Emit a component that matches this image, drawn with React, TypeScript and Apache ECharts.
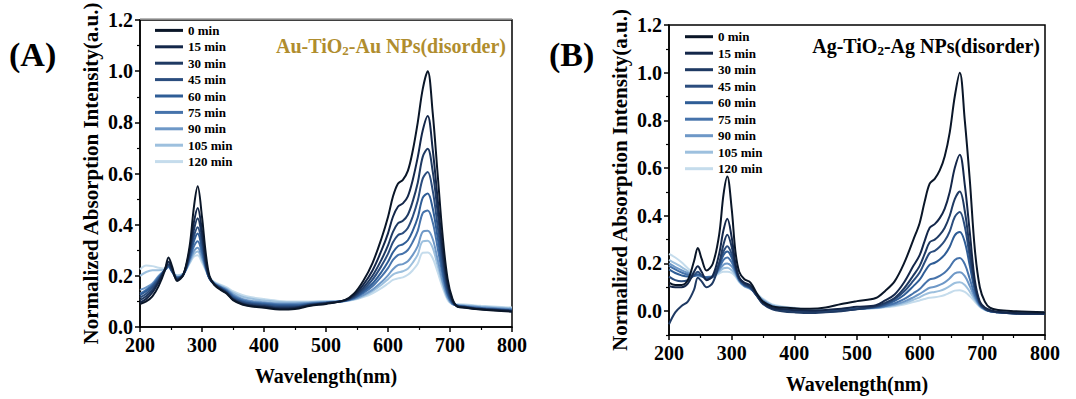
import React, { useEffect, useRef } from "react";
import * as echarts from "echarts";

const WAVELENGTHS = [200,210,220,230,240,246,252,260,270,280,287,293,300,306,312,320,330,340,350,365,380,400,425,450,475,500,530,545,560,575,590,600,608,616,624,632,640,648,656,664,672,680,688,696,704,712,725,750,800];
const TIMES = ["0 min","15 min","30 min","45 min","60 min","75 min","90 min","105 min","120 min"];
const COLORS = ["#0a1628","#14274a","#1f3a63","#2b4d7e","#2f5d96","#4673ab","#6e98c7","#9dc0de","#c5dcec"];
const Y_TICKS = [0,0.2,0.4,0.6,0.8,1.0,1.2];
const Y_MINOR_B = [-0.1,0.1,0.3,0.5,0.7,0.9,1.1];

// Panel A: Au-TiO2-Au NPs(disorder)
const A_0 = [.09,.1,.12,.16,.22,.272,.235,.18,.205,.315,.47,.55,.43,.29,.2,.165,.145,.13,.105,.088,.08,.075,.068,.07,.083,.09,.105,.13,.18,.25,.35,.43,.51,.56,.575,.61,.69,.8,.93,1.0,.84,.6,.36,.19,.11,.08,.075,.068,.06];
const A_15 = [.095,.11,.135,.175,.225,.255,.225,.185,.205,.3,.41,.465,.375,.26,.195,.165,.148,.132,.108,.09,.083,.079,.072,.074,.085,.092,.104,.124,.165,.221,.302,.366,.431,.47,.483,.511,.576,.664,.768,.825,.696,.502,.308,.17,.104,.08,.076,.069,.062];
const A_30 = [.105,.12,.145,.18,.225,.245,.22,.188,.205,.29,.38,.425,.35,.25,.192,.166,.15,.134,.11,.093,.086,.082,.076,.077,.087,.093,.104,.12,.153,.2,.266,.319,.372,.405,.415,.439,.492,.564,.665,.697,.61,.45,.28,.155,.1,.081,.077,.07,.063];
const A_45 = [.115,.13,.155,.185,.222,.24,.218,.19,.205,.28,.355,.39,.325,.243,.19,.167,.152,.136,.113,.097,.09,.086,.08,.08,.088,.094,.103,.117,.145,.185,.241,.286,.331,.359,.367,.387,.432,.494,.58,.606,.535,.395,.25,.144,.097,.082,.078,.071,.064];
const A_60 = [.125,.14,.16,.19,.222,.238,.217,.192,.205,.272,.335,.365,.305,.237,.19,.168,.154,.139,.117,.1,.093,.089,.084,.084,.09,.095,.103,.114,.138,.17,.217,.255,.292,.316,.323,.339,.377,.428,.505,.522,.465,.35,.225,.134,.094,.083,.079,.072,.065];
const A_75 = [.13,.145,.165,.195,.222,.236,.216,.194,.206,.265,.315,.335,.288,.232,.19,.17,.156,.142,.122,.105,.097,.093,.088,.088,.092,.096,.102,.112,.132,.159,.199,.23,.262,.281,.287,.301,.333,.376,.445,.455,.41,.31,.205,.127,.092,.084,.08,.074,.067];
const A_90 = [.145,.155,.17,.2,.222,.235,.215,.195,.207,.258,.297,.31,.272,.228,.19,.171,.158,.146,.128,.11,.102,.097,.092,.092,.095,.098,.102,.109,.125,.146,.177,.202,.226,.242,.246,.257,.282,.316,.372,.376,.345,.265,.18,.117,.089,.085,.082,.077,.07];
const A_105 = [.2,.215,.222,.222,.225,.238,.218,.2,.208,.252,.285,.295,.262,.225,.192,.174,.162,.15,.134,.118,.11,.104,.098,.097,.098,.1,.101,.108,.121,.14,.166,.187,.205,.213,.218,.228,.252,.283,.335,.337,.31,.24,.17,.113,.09,.087,.085,.08,.073];
const A_120 = [.225,.24,.238,.232,.228,.24,.22,.202,.21,.248,.275,.28,.252,.222,.192,.176,.165,.155,.14,.125,.116,.109,.102,.1,.1,.101,.101,.106,.117,.132,.153,.17,.184,.19,.194,.204,.222,.247,.29,.291,.27,.215,.155,.107,.09,.089,.088,.083,.076];

// Panel B: Ag-TiO2-Ag NPs(disorder)
const B_0 = [.12,.11,.11,.13,.21,.265,.22,.17,.2,.32,.49,.565,.43,.25,.165,.135,.12,.075,.04,.02,.015,.012,.01,.015,.03,.042,.055,.085,.125,.2,.3,.37,.46,.535,.555,.59,.65,.75,.9,1.0,.8,.55,.26,.1,.04,.015,.005,0,-.005];
const B_15 = [.105,.1,.1,.115,.165,.188,.165,.13,.15,.24,.34,.387,.31,.2,.14,.12,.108,.07,.035,.012,.008,.004,.002,.005,.01,.018,.025,.045,.07,.12,.19,.235,.295,.35,.365,.39,.43,.5,.6,.656,.53,.33,.13,.04,.015,.005,-.003,-.008,-.01];
const B_30 = [-.055,-.005,.022,.04,.09,.14,.125,.1,.12,.2,.28,.32,.27,.19,.14,.115,.1,.065,.03,.008,0,-.005,-.008,-.005,0,.008,.02,.035,.055,.095,.15,.19,.24,.289,.3,.32,.35,.4,.47,.502,.42,.26,.11,.035,.01,0,-.005,-.01,-.012];
const B_45 = [.145,.13,.125,.13,.15,.165,.15,.135,.145,.2,.25,.272,.24,.18,.135,.112,.098,.065,.032,.01,.003,-.003,-.005,-.003,.002,.009,.018,.03,.05,.082,.128,.162,.205,.244,.253,.27,.295,.335,.395,.416,.355,.225,.1,.033,.01,0,-.005,-.01,-.012];
const B_60 = [.175,.16,.15,.145,.148,.155,.148,.14,.145,.19,.235,.25,.225,.175,.133,.11,.097,.066,.035,.013,.006,0,-.003,-.002,.003,.009,.017,.027,.043,.068,.105,.132,.165,.195,.203,.217,.237,.27,.318,.332,.29,.19,.088,.03,.01,0,-.005,-.01,-.012];
const B_75 = [.19,.175,.162,.153,.148,.152,.147,.142,.145,.18,.215,.225,.205,.168,.13,.108,.095,.068,.04,.018,.01,.004,0,0,.004,.01,.015,.022,.033,.05,.075,.093,.115,.133,.138,.148,.162,.185,.215,.223,.197,.135,.068,.025,.008,0,-.005,-.008,-.01];
const B_90 = [.2,.185,.172,.16,.15,.15,.146,.143,.145,.172,.195,.2,.188,.16,.128,.106,.094,.07,.045,.022,.014,.008,.003,.002,.005,.01,.014,.02,.028,.04,.058,.072,.086,.098,.102,.11,.121,.138,.158,.163,.147,.105,.057,.022,.007,0,-.004,-.007,-.008];
const B_105 = [.215,.2,.185,.168,.152,.148,.145,.143,.145,.165,.18,.182,.172,.152,.125,.105,.093,.072,.048,.025,.017,.011,.006,.004,.006,.01,.013,.018,.025,.034,.048,.058,.069,.077,.08,.085,.093,.105,.118,.121,.11,.082,.048,.02,.006,0,-.003,-.006,-.007];
const B_120 = [.24,.225,.205,.18,.158,.148,.144,.142,.144,.158,.165,.165,.16,.145,.122,.104,.092,.074,.052,.028,.02,.014,.008,.006,.007,.01,.012,.016,.021,.028,.038,.045,.051,.056,.058,.062,.068,.077,.086,.088,.081,.063,.04,.018,.006,0,-.002,-.004,-.005];

const PANEL_A = [A_0, A_15, A_30, A_45, A_60, A_75, A_90, A_105, A_120];
const PANEL_B = [B_0, B_15, B_30, B_45, B_60, B_75, B_90, B_105, B_120];

const FONT = "'Liberation Serif', 'Times New Roman', serif";

function xAxis(gridIndex: number) {
  return {
    type: "value", gridIndex, min: 200, max: 800, interval: 100,
    name: "Wavelength(nm)", nameLocation: "middle", nameGap: 39,
    nameTextStyle: { fontFamily: FONT, fontWeight: "bold", fontSize: 20, color: "#000" },
    axisLine: { show: true, onZero: false, lineStyle: { color: "#000", width: 1.5 } },
    axisTick: { show: true, inside: false, length: 5, lineStyle: { color: "#000", width: 1.5 } },
    minorTick: { show: true, splitNumber: 2, length: 3, lineStyle: { color: "#000", width: 1.2 } },
    axisLabel: { fontFamily: FONT, fontWeight: "bold", fontSize: 20, color: "#000", margin: 8 },
    splitLine: { show: false },
  };
}

const yName = {
  name: "Normalized Absorption Intensity(a.u.)", nameLocation: "middle", nameGap: 39, nameRotate: 90,
  nameTextStyle: { fontFamily: FONT, fontWeight: "bold", fontSize: 21, color: "#000" },
};
const yLabel = { fontFamily: FONT, fontWeight: "bold", fontSize: 20, color: "#000", margin: 7, formatter: (v: number) => v.toFixed(1) };

function buildSeries(panel: number[][], axisIndex: number, yIndex: number) {
  return panel.map((vals, i) => ({
    name: TIMES[i], type: "line", xAxisIndex: axisIndex, yAxisIndex: yIndex,
    data: WAVELENGTHS.map((w, j) => [w, vals[j]]),
    smooth: 0.35, symbol: "none", showSymbol: false,
    lineStyle: { color: COLORS[i], width: 2 }, itemStyle: { color: COLORS[i] },
    z: 20 - i,
  }));
}

function legend(left: number, top: number, gap: number) {
  return {
    data: TIMES.map((t, i) => ({ name: t, icon: "rect", itemStyle: { color: COLORS[i] } })),
    left, top, orient: "vertical", itemWidth: 28, itemHeight: 3, itemGap: gap,
    padding: 0, selectedMode: false,
    textStyle: { fontFamily: FONT, fontWeight: "bold", fontSize: 13, lineHeight: 14, color: "#000" },
  };
}

function title(text1: string, text2: string, x: number, y: number, color: string) {
  return {
    type: "text", x, y, z: 100,
    style: {
      text: `{a|${text1}}{s|2}{a|${text2}}`,
      align: "right", verticalAlign: "middle", fill: color,
      rich: {
        a: { fontFamily: FONT, fontWeight: "bold", fontSize: 20, fill: color, lineHeight: 22 },
        s: { fontFamily: FONT, fontWeight: "bold", fontSize: 13, fill: color, lineHeight: 6, verticalAlign: "bottom" },
      },
    },
  };
}

export default function App() {
  const ref = useRef<HTMLDivElement>(null);
  useEffect(() => {
    if (!ref.current) return;
    const chart = echarts.init(ref.current, null, { renderer: "svg" });
    const option: any = {
      animation: false,
      backgroundColor: "#fff",
      grid: [
        { left: 140, top: 19, width: 372, height: 308, show: true, borderColor: "#000", borderWidth: 1.5 },
        { left: 669, top: 25, width: 376, height: 310.6, show: true, borderColor: "#000", borderWidth: 1.5 },
      ],
      xAxis: [xAxis(0), xAxis(1)],
      yAxis: [
        {
          type: "value", gridIndex: 0, min: 0, max: 1.2, interval: 0.2, ...yName,
          axisLine: { show: true, lineStyle: { color: "#000", width: 1.5 } },
          axisTick: { show: true, length: 5, lineStyle: { color: "#000", width: 1.5 } },
          minorTick: { show: true, splitNumber: 2, length: 3, lineStyle: { color: "#000", width: 1.2 } },
          axisLabel: yLabel, splitLine: { show: false },
        },
        {
          type: "value", gridIndex: 1, min: -0.1, max: 1.2, ...yName,
          axisLine: { show: true, onZero: false, lineStyle: { color: "#000", width: 1.5 } },
          axisTick: { show: true, length: 5, customValues: Y_TICKS, lineStyle: { color: "#000", width: 1.5 } },
          axisLabel: { ...yLabel, customValues: Y_TICKS }, splitLine: { show: false },
        },
        {
          type: "value", gridIndex: 1, min: -0.1, max: 1.2, position: "left",
          axisLine: { show: false },
          axisTick: { show: true, length: 3, customValues: Y_MINOR_B, lineStyle: { color: "#000", width: 1.2 } },
          axisLabel: { show: false, customValues: Y_MINOR_B }, splitLine: { show: false },
        },
      ],
      legend: [legend(155, 23.4, 2.4), legend(685, 29.7, 2.5)],
      series: [...buildSeries(PANEL_A, 0, 0), ...buildSeries(PANEL_B, 1, 1)],
      graphic: [
        { type: "line", z: 100, shape: { x1: 140, y1: 19, x2: 512, y2: 19 }, style: { stroke: "#a0a0a0", lineWidth: 1.5 } },
        { type: "text", x: 9, y: 54, z: 100, style: { text: "(A)", fontFamily: FONT, fontWeight: "bold", fontSize: 34, fill: "#000", verticalAlign: "middle" } },
        { type: "text", x: 549, y: 54, z: 100, style: { text: "(B)", fontFamily: FONT, fontWeight: "bold", fontSize: 34, fill: "#000", verticalAlign: "middle" } },
        title("Au-TiO", "-Au NPs(disorder)", 506, 46, "#b08d2e"),
        title("Ag-TiO", "-Ag NPs(disorder)", 1040, 46, "#000"),
      ],
    };
    chart.setOption(option);
    return () => chart.dispose();
  }, []);
  return <div ref={ref} style={{ position: "absolute", left: 0, top: 0, width: 1076, height: 399 }} />;
}
